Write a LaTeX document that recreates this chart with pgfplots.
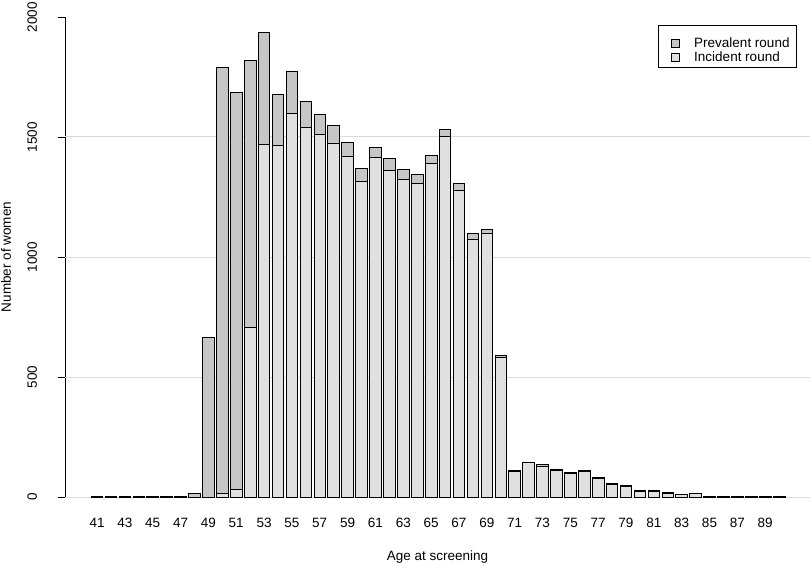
\documentclass[border=0pt]{standalone}
\usepackage{pgfplots}
\pgfplotsset{compat=1.18}
\usepackage{pgfplotstable}
\usepackage{fontspec}
\setmainfont{Liberation Sans}
\definecolor{prevc}{HTML}{C6C6C6}
\definecolor{incc}{HTML}{E0E0E0}
\definecolor{gridc}{HTML}{D9D9D9}
\newcommand{\fs}{\fontsize{13.5}{16}\selectfont}
\pgfplotsset{sqlegend/.style={legend image code/.code={\path[draw=none,fill=none] (-13pt,-7pt) (23pt,7pt);\draw[##1] (0pt,-4pt) rectangle (8pt,4pt);}}}
\pgfplotstableread{
age inc prev
41 0 1
42 0 3
43 0 2
44 0 3
45 0 1
46 0 2
47 0 3
48 0 15
49 0 667
50 15 1775
51 32 1655
52 705 1113
53 1468 467
54 1464 212
55 1597 178
56 1540 109
57 1511 82
58 1475 74
59 1418 61
60 1315 54
61 1415 40
62 1360 50
63 1322 42
64 1307 38
65 1388 36
66 1504 29
67 1278 28
68 1072 27
69 1099 16
70 580 12
71 106 4
72 143 3
73 128 8
74 112 5
75 98 3
76 105 7
77 76 7
78 51 6
79 45 2
80 25 3
81 25 2
82 16 2
83 11 1
84 13 2
85 2 1
86 2 0
87 2 0
88 2 0
89 2 0
90 1 0
}\datatable
\begin{document}
\begin{tikzpicture}[font=\fs]
\begin{axis}[
  name=ax,
  scale only axis, width=745pt, height=480pt,
  xmin=38.7, xmax=92.22, ymin=0, ymax=2000,
  clip=false,
  ybar stacked, bar width=0.8333, bar shift=0pt,
  separate axis lines,
  axis x line*=bottom, axis y line*=left,
  x axis line style={draw=none},
  y axis line style={black, line width=0.8pt},
  xtick={41,43,...,89},
  xtick style={draw=none},
  xticklabel style={anchor=base, yshift=-30pt, font=\fs},
  ytick={0,500,1000,1500,2000},
  ytick align=outside,
  ytick style={black, line width=0.8pt},
  major tick length=7pt,
  yticklabel style={rotate=90, anchor=base, font=\fs},
  yticklabel shift=21pt,
  /pgf/number format/assume math mode=true,
  /pgf/number format/1000 sep={},
  extra y ticks={0,500,1000,1500},
  extra y tick labels={},
  extra y tick style={grid=major, major grid style={gridc, line width=1pt}, tick style={draw=none}},
  every axis x label/.style={at={([yshift=-63pt]axis description cs:0.5,0)}, anchor=base, font=\fs},
  every axis y label/.style={at={([xshift=-54pt]axis description cs:0,0.5)}, rotate=90, anchor=base, font=\fs},
  xlabel={Age at screening},
  ylabel={Number of women},
  reverse legend,
  legend style={name=lg, at={(axis description cs:0.796,0.966)}, anchor=north west,
    draw=none, fill=none, font=\fs, inner xsep=0pt, inner ysep=3pt,
    nodes={inner sep=0pt}, column sep=0pt, row sep=-0.6pt},
  legend cell align=left,
]
\addplot[fill=incc, draw=black, line width=0.8pt, sqlegend]
  table[x=age, y=inc] {\datatable};
\addlegendentry{Incident round}
\addplot[fill=prevc, draw=black, line width=0.8pt, sqlegend]
  table[x=age, y=prev] {\datatable};
\addlegendentry{Prevalent round}
\end{axis}
\draw[black, line width=0.8pt] ([yshift=8.3pt]lg.north west) rectangle ([xshift=7pt]lg.south east);
\pgfresetboundingbox
\path[use as bounding box] ([xshift=-65pt,yshift=-68pt]ax.south west) rectangle ([xshift=745pt,yshift=497pt]ax.south west);
\end{tikzpicture}
\end{document}
